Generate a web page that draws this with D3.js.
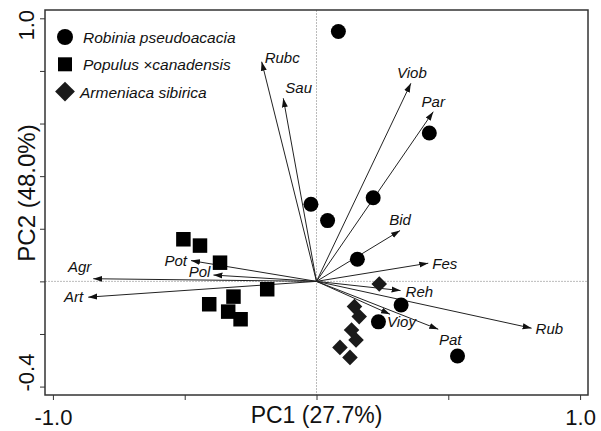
<!DOCTYPE html>
<html lang="en">

<head>
  <meta charset="UTF-8">
  <title>PCA biplot</title>
  <script src="https://d3js.org/d3.v7.min.js"></script>
  <style>
    body {
      margin: 0;
      background: #fff;
    }

    svg text {
      font-family: 'Liberation Sans', Arial, sans-serif;
      fill: #111;
    }

    .tick line {
      stroke: #333;
    }

    .zero {
      stroke: #bbb;
      stroke-width: 1px;
      stroke-dasharray: 2, 1;
    }

    .vec {
      stroke: #222;
      stroke-width: 1px;
    }

    .vlabel,
    .legend-label {
      font-style: italic;
    }
  </style>
</head>

<body>
  <div id="chart"></div>

  <script>
    // sample scores [PC1, PC2]
    const robinia = [[0.083, 0.950], [0.428, 0.564], [-0.021, 0.293], [0.042, 0.231], [0.215, 0.318],
      [0.155, 0.084], [0.321, -0.090], [0.235, -0.154], [0.535, -0.284]];
    const populus = [[-0.505, 0.160], [-0.442, 0.136], [-0.366, 0.071], [-0.187, -0.030],
      [-0.315, -0.058], [-0.407, -0.087], [-0.335, -0.115], [-0.288, -0.144]];
    const armeniaca = [[0.238, -0.010], [0.144, -0.096], [0.162, -0.134], [0.133, -0.185],
      [0.150, -0.223], [0.089, -0.251], [0.127, -0.289]];

    // species loadings
    const species = ['Rubc', 'Sau', 'Viob', 'Par', 'Bid', 'Fes', 'Reh', 'Rub', 'Pat', 'Vioy', 'Agr', 'Art', 'Pot', 'Pol'];
    const loadPC1 = [-0.208, -0.126, 0.358, 0.443, 0.317, 0.424, 0.319, 0.816, 0.462, 0.279, -0.847, -0.866, -0.476, -0.391];
    const loadPC2 = [0.835, 0.696, 0.753, 0.645, 0.193, 0.069, -0.035, -0.178, -0.182, -0.125, 0.010, -0.060, 0.079, 0.024];

    const groups = ['Robinia pseudoacacia', 'Populus \u00D7canadensis', 'Armeniaca sibirica'];
    const xTicks = [-1.0, -0.5, 0, 0.5, 1.0];
    const yTicks = [-0.4, -0.2, 0, 0.2, 0.4, 0.6, 0.8, 1.0];
    const xTitle = 'PC1 (27.7%)';
    const yTitle = 'PC2 (48.0%)';

    // where each species label sits relative to its arrow tip
    const labelPlace = {
      Rubc: ['start', 3, 1], Sau: ['start', 2, -5], Viob: ['middle', 1, -5], Par: ['middle', 0, -5],
      Bid: ['middle', 0, -6], Fes: ['start', 4, 6], Reh: ['start', 5, 6], Rub: ['start', 4, 6],
      Pat: ['middle', 12, 16], Vioy: ['start', -3, 13], Agr: ['end', -2, -7], Art: ['end', -5, 5],
      Pot: ['end', -4, 5], Pol: ['end', -3, 2]
    };

    const width = 601, height = 431;
    const box = { left: 45, right: 588, top: 10, bottom: 395 };
    const fmt = d => d3.format('.1f')(d).replace('\u2212', '-');

    const svg = d3.select('#chart').append('svg')
      .attr('width', width)
      .attr('height', height);

    const x = d3.scaleLinear().domain([-1.03, 1.03]).range([box.left, box.right]);
    const y = d3.scaleLinear().domain([-0.432, 1.0316]).range([box.bottom, box.top]);

    // arrowhead
    svg.append('defs').append('marker')
      .attr('id', 'head')
      .attr('markerUnits', 'userSpaceOnUse')
      .attr('viewBox', '0 -4 9 8')
      .attr('refX', 9)
      .attr('refY', 0)
      .attr('markerWidth', 9)
      .attr('markerHeight', 8)
      .attr('orient', 'auto')
      .append('path')
      .attr('d', 'M0,-3 L9,0 L0,3 Z')
      .attr('fill', '#111');

    // zero lines
    svg.append('line').attr('class', 'zero')
      .attr('x1', x(0)).attr('x2', x(0)).attr('y1', box.top).attr('y2', box.bottom);
    svg.append('line').attr('class', 'zero')
      .attr('x1', box.left).attr('x2', box.right).attr('y1', y(0)).attr('y2', y(0));

    // axes (ticks only, the frame is drawn separately)
    const xAxis = svg.append('g')
      .attr('transform', `translate(0,${box.bottom})`)
      .call(d3.axisBottom(x).tickValues(xTicks).tickSize(5).tickPadding(9)
        .tickFormat(d => Math.abs(d) === 1 ? fmt(d) : ''));
    xAxis.select('.domain').remove();
    xAxis.selectAll('text').attr('font-size', 22).attr('font-family', null);

    const yAxis = svg.append('g')
      .attr('transform', `translate(${box.left},0)`)
      .call(d3.axisLeft(y).tickValues(yTicks).tickSize(5).tickFormat(''));
    yAxis.select('.domain').remove();

    // y tick labels (rotated, only the ends)
    const yLabelShift = { '1': 7, '-0.4': -14 };
    svg.selectAll('.ylab')
      .data([yTicks[yTicks.length - 1], yTicks[0]])
      .enter().append('text')
      .attr('class', 'ylab')
      .attr('font-size', 22)
      .attr('text-anchor', 'middle')
      .attr('transform', d => `translate(34,${y(d) + yLabelShift[String(d)]}) rotate(-90)`)
      .text(d => fmt(d));

    // frame
    svg.append('rect')
      .attr('x', box.left).attr('y', box.top)
      .attr('width', box.right - box.left).attr('height', box.bottom - box.top)
      .attr('fill', 'none').attr('stroke', '#333').attr('stroke-width', 1.5);

    // titles
    svg.append('text')
      .attr('x', x(0)).attr('y', 423)
      .attr('text-anchor', 'middle').attr('font-size', 23)
      .text(xTitle);
    svg.append('text')
      .attr('text-anchor', 'middle').attr('font-size', 24)
      .attr('transform', `translate(35,193) rotate(-90)`)
      .text(yTitle);

    // species vectors
    const vectors = species.map((s, i) => ({ name: s, pc1: loadPC1[i], pc2: loadPC2[i] }));

    svg.selectAll('.vec')
      .data(vectors)
      .enter().append('line')
      .attr('class', 'vec')
      .attr('x1', x(0)).attr('y1', y(0))
      .attr('x2', d => x(d.pc1)).attr('y2', d => y(d.pc2))
      .attr('marker-end', 'url(#head)');

    svg.selectAll('.vlabel')
      .data(vectors)
      .enter().append('text')
      .attr('class', 'vlabel')
      .attr('font-size', 15)
      .attr('text-anchor', d => labelPlace[d.name][0])
      .attr('x', d => x(d.pc1) + labelPlace[d.name][1])
      .attr('y', d => y(d.pc2) + labelPlace[d.name][2])
      .text(d => d.name);

    // sample points
    const circle = d3.symbol().type(d3.symbolCircle).size(Math.PI * 7.5 * 7.5);
    const square = d3.symbol().type(d3.symbolSquare).size(14.5 * 14.5);
    const diamond = d3.symbol().type(d3.symbolSquare).size(11 * 11);

    svg.selectAll('.pt-rob')
      .data(robinia)
      .enter().append('path')
      .attr('class', 'pt-rob')
      .attr('d', circle)
      .attr('fill', '#000')
      .attr('transform', d => `translate(${x(d[0])},${y(d[1])})`);

    svg.selectAll('.pt-pop')
      .data(populus)
      .enter().append('path')
      .attr('class', 'pt-pop')
      .attr('d', square)
      .attr('fill', '#000')
      .attr('transform', d => `translate(${x(d[0])},${y(d[1])})`);

    svg.selectAll('.pt-arm')
      .data(armeniaca)
      .enter().append('path')
      .attr('class', 'pt-arm')
      .attr('d', diamond)
      .attr('fill', '#1a1a1a')
      .attr('transform', d => `translate(${x(d[0])},${y(d[1])}) rotate(45)`);

    // legend
    const legendSymbols = [
      d3.symbol().type(d3.symbolCircle).size(Math.PI * 8 * 8)(),
      d3.symbol().type(d3.symbolSquare).size(14 * 14)(),
      d3.symbol().type(d3.symbolSquare).size(14 * 14)()
    ];
    const legend = svg.append('g').attr('transform', 'translate(65,37)');
    const row = legend.selectAll('.lrow')
      .data(groups)
      .enter().append('g')
      .attr('class', 'lrow')
      .attr('transform', (d, i) => `translate(0,${i * 27.3})`);

    row.append('path')
      .attr('d', (d, i) => legendSymbols[i])
      .attr('fill', (d, i) => i === 2 ? '#1a1a1a' : '#000')
      .attr('transform', (d, i) => i === 2 ? 'rotate(45)' : null);

    row.append('text')
      .attr('class', 'legend-label')
      .attr('font-size', 15.5)
      .attr('x', (d, i) => i === 2 ? 15 : 18)
      .attr('y', 6)
      .text(d => d);
  </script>

</body>

</html>
